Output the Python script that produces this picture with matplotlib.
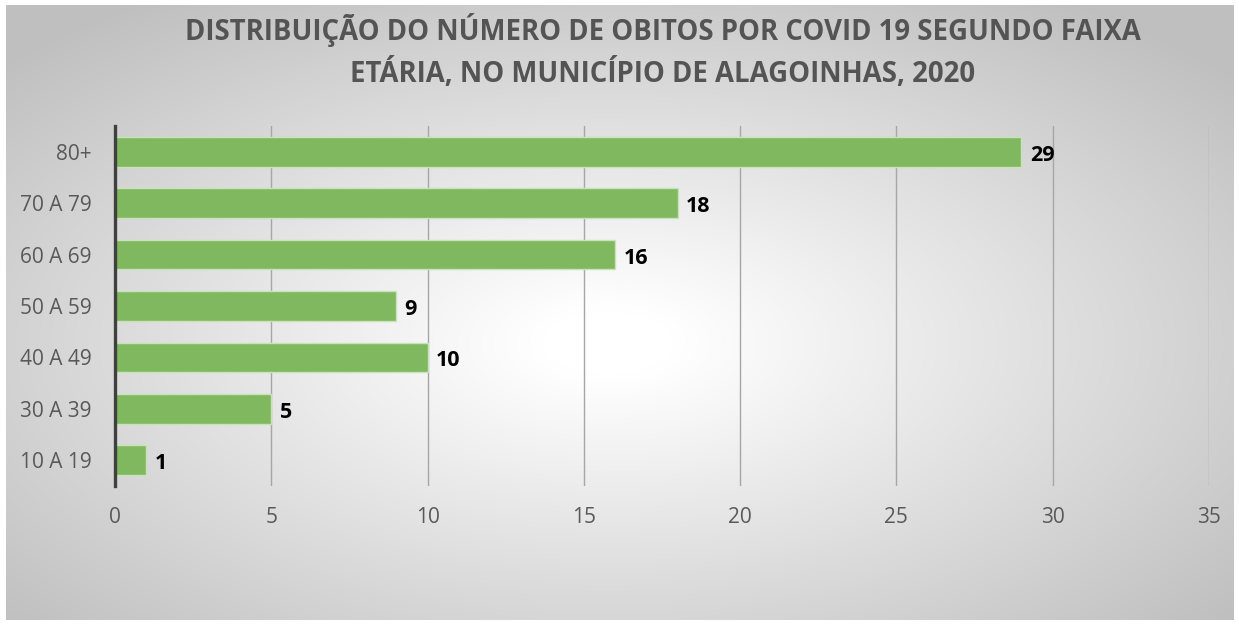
import numpy as np
import matplotlib
matplotlib.use("Agg")
import matplotlib.pyplot as plt

categories = ["10 A 19", "30 A 39", "40 A 49", "50 A 59", "60 A 69", "70 A 79", "80+"]
values = [1, 5, 10, 9, 16, 18, 29]
xticks = [0, 5, 10, 15, 20, 25, 30, 35]
title = "DISTRIBUIÇÃO DO NÚMERO DE OBITOS POR COVID 19 SEGUNDO FAIXA\nETÁRIA, NO MUNICÍPIO DE ALAGOINHAS, 2020"

W, H = 1239, 625
fig = plt.figure(figsize=(W / 100, H / 100), dpi=100)
fig.patch.set_facecolor("white")

# background radial gradient in frame
fx0, fx1, fy0, fy1 = 6, 1234, 5, 620
bg = fig.add_axes([fx0 / W, 1 - fy1 / H, (fx1 - fx0) / W, (fy1 - fy0) / H])
nx, ny = 400, 200
xx, yy = np.meshgrid(np.linspace(-1, 1, nx), np.linspace(-1, 1, ny))
cx, cy = -0.02, 0.1
r = np.sqrt(((xx - cx) / 1.0) ** 2 + ((yy - cy) / 1.0) ** 2) / 1.35
t = np.clip((r - 0.08) / 0.92, 0, 1)
c_in, c_out = 1.0, 0.75
g = c_in + (c_out - c_in) * t
img = np.dstack([g, g, g])
bg.imshow(img, aspect="auto", extent=[0, 1, 0, 1], origin="upper", interpolation="bilinear")
bg.set_axis_off()

ax = fig.add_axes([115 / W, 1 - 486 / H, (1209 - 115) / W, (486 - 126) / H])
ax.patch.set_alpha(0)
y = np.arange(len(categories))
ax.barh(y, values, height=0.58, color="#80b860", edgecolor="#c9e3b8", linewidth=1.0, zorder=3)
ax.set_xlim(0, 35)
ax.set_ylim(-0.5, len(categories) - 0.5)
ax.set_xticks(xticks)
ax.set_yticks(y)
ax.set_yticklabels(categories)
ax.xaxis.grid(True, color="#a6a6a6", linewidth=1.0, zorder=0)
ax.set_axisbelow(True)
for s in ["top", "right", "bottom"]:
    ax.spines[s].set_visible(False)
ax.spines["left"].set_color("#404040")
ax.spines["left"].set_linewidth(2.4)
ax.spines["left"].set_zorder(5)
ax.tick_params(axis="both", length=0, colors="#595959", labelsize=15)
ax.tick_params(axis="x", pad=15)
ax.tick_params(axis="y", pad=17)
for lab in ax.get_xticklabels() + ax.get_yticklabels():
    lab.set_family("Open Sans")
    lab.set_color("#595959")

for yi, v in zip(y, values):
    ax.annotate(str(v), (v, yi), xytext=(6, -2.5), textcoords="offset points",
                ha="left", va="center", fontsize=15.5, fontweight="bold",
                family="Open Sans", color="black", zorder=6)

fig.text(663 / W, 1 - 51 / H, title, ha="center", va="center", fontsize=19.8,
         fontweight="bold", family="Open Sans", color="#545454", linespacing=1.45)

fig.savefig("out.png", dpi=100)
